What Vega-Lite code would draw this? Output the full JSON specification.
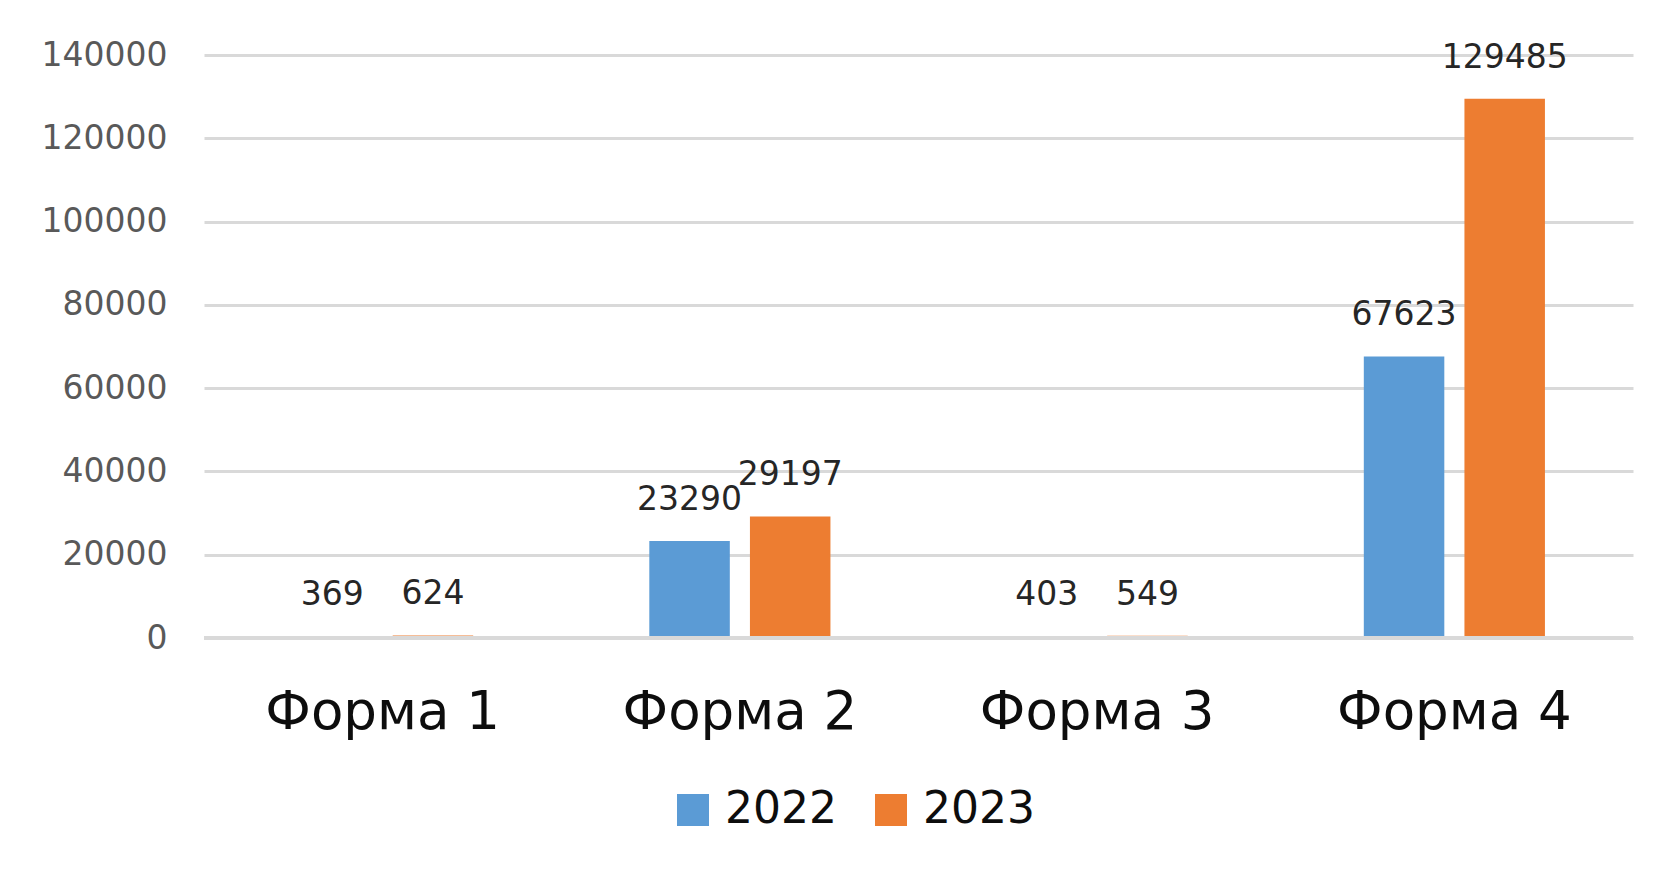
{
  "$schema": "https://vega.github.io/schema/vega-lite/v6.json",
  "width": 1429,
  "height": 583,
  "autosize": "none",
  "padding": {"left": 204, "top": 55, "right": 33, "bottom": 231},
  "background": "white",
  "config": {
    "view": {"stroke": null},
    "font": "DejaVu Sans"
  },
  "data": {
    "values": [
      {"form": "Форма 1", "year": "2022", "value": 369},
      {"form": "Форма 1", "year": "2023", "value": 624},
      {"form": "Форма 2", "year": "2022", "value": 23290},
      {"form": "Форма 2", "year": "2023", "value": 29197},
      {"form": "Форма 3", "year": "2022", "value": 403},
      {"form": "Форма 3", "year": "2023", "value": 549},
      {"form": "Форма 4", "year": "2022", "value": 67623},
      {"form": "Форма 4", "year": "2023", "value": 129485}
    ]
  },
  "encoding": {
    "x": {
      "field": "form", "type": "nominal", "sort": null,
      "scale": {"paddingInner": 0.493, "paddingOuter": 0.2465},
      "axis": {
        "title": null, "domain": false, "ticks": false, "grid": false,
        "labelAngle": 0, "labelFontSize": 53, "labelColor": "#0d0d0d", "labelLimit": 0,
        "labelBaseline": "alphabetic", "labelPadding": 90, "labelFont": "DejaVu Sans"
      }
    },
    "xOffset": {"field": "year", "type": "nominal", "scale": {"paddingInner": 0.2, "paddingOuter": 0}},
    "y": {
      "field": "value", "type": "quantitative",
      "scale": {"domain": [0, 140000], "nice": false},
      "axis": {
        "title": null, "domain": false, "ticks": false, "values": [0, 20000, 40000, 60000, 80000, 100000, 120000, 140000],
        "format": "d", "labelFontSize": 33, "labelColor": "#595959", "labelPadding": 37,
        "gridColor": "#d9d9d9", "gridWidth": 3
      }
    }
  },
  "layer": [
    {
      "mark": {"type": "bar"},
      "encoding": {
        "color": {
          "field": "year", "type": "nominal",
          "scale": {"domain": ["2022", "2023"], "range": ["#5b9bd5", "#ed7d31"]},
          "legend": {
            "title": null, "orient": "none", "direction": "horizontal",
            "legendX": 467, "legendY": 733,
            "symbolType": "square", "symbolSize": 1024, "symbolStrokeWidth": 0,
            "labelFontSize": 44, "labelColor": "#0d0d0d", "labelOffset": 10,
            "columnPadding": 32
          }
        }
      }
    },
    {
      "mark": {"type": "rule", "color": "#d9d9d9", "strokeWidth": 4},
      "encoding": {"y": {"datum": 0}, "x": null, "xOffset": null}
    },
    {
      "mark": {"type": "text", "baseline": "alphabetic", "dy": -31, "fontSize": 33, "color": "#262626"},
      "encoding": {
        "text": {"field": "value", "type": "quantitative", "format": "d"}
      }
    }
  ]
}
